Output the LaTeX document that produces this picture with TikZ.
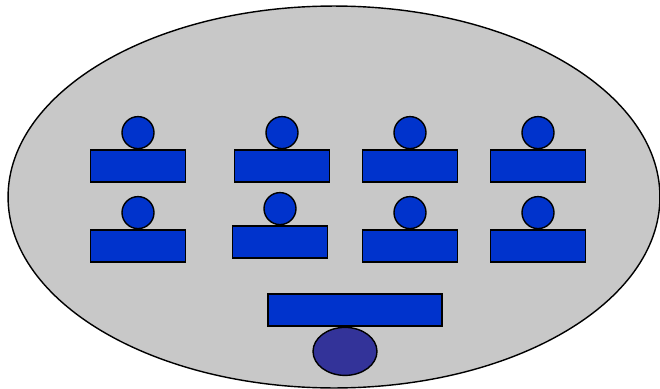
\documentclass[tikz,border=0pt]{standalone}
\usetikzlibrary{positioning,shapes.geometric}
\definecolor{roomgray}{RGB}{200,200,200}
\definecolor{deskblue}{RGB}{0,51,204}
\definecolor{teacherblue}{RGB}{51,51,153}
\tikzset{
  desk/.style={rectangle, draw=black, line width=0.8pt, fill=deskblue, minimum width=1.9cm, minimum height=0.64cm, inner sep=0pt},
  head/.style={circle, draw=black, line width=0.8pt, fill=deskblue, minimum size=0.64cm, inner sep=0pt},
}
\begin{document}
\begin{tikzpicture}[x=0.02cm, y=-0.02cm]
  \useasboundingbox (0,0) rectangle (660,389);
  % classroom
  \node[ellipse, draw=black, line width=0.8pt, fill=roomgray, minimum width=13.04cm, minimum height=7.64cm, inner sep=0pt] (room) at (334,197) {};
  % students
  \foreach \x/\n in {138/1, 282/2, 410/3, 538/4} {
    \node[desk] (deskA\n) at (\x,166) {};
    \node[head, above=0pt of deskA\n] (headA\n) {};
  }
  \foreach \x/\y/\n in {138/246/1, 280/242/2, 410/246/3, 538/246/4} {
    \node[desk] (deskB\n) at (\x,\y) {};
    \node[head, above=0pt of deskB\n] (headB\n) {};
  }
  % teacher
  \node[desk, minimum width=3.48cm] (teacherdesk) at (355,310) {};
  \node[ellipse, draw=black, line width=0.8pt, fill=teacherblue, minimum width=1.28cm, minimum height=0.96cm, inner sep=0pt, below=0pt of teacherdesk, xshift=-0.2cm] (teacher) {};
\end{tikzpicture}
\end{document}
